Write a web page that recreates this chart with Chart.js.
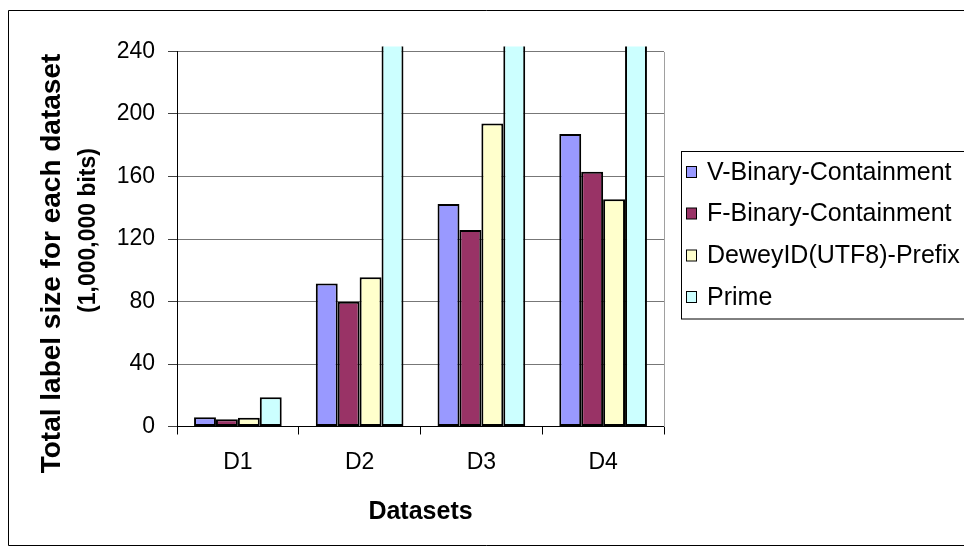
<!DOCTYPE html>
<html>
<head>
<meta charset="utf-8">
<script src="https://cdn.jsdelivr.net/npm/chart.js@4/dist/chart.umd.min.js"></script>
<style>
  html, body { margin: 0; padding: 0; background: #fff; }
  #wrap { width: 964px; height: 553px; position: relative; }
</style>
</head>
<body>
<div id="wrap"><canvas id="c" width="964" height="553"></canvas></div>
<script>
// ---- data ----
const categories = ['D1', 'D2', 'D3', 'D4'];
const seriesNames = ['V-Binary-Containment', 'F-Binary-Containment', 'DeweyID(UTF8)-Prefix', 'Prime'];
const vBinary = [5.9, 91.5, 142.4, 187.2];
const fBinary = [4.6, 79.8, 125.8, 163];
const deweyPrefix = [5.6, 95.6, 194, 145.4];
const prime = [18.7, 300, 300, 300]; // D2-D4 run off the top of the axis in the original
const yTicks = [0, 40, 80, 120, 160, 200, 240];
const xTitle = 'Datasets';
const yTitleLines = ['Total label size for each dataset', '(1,000,000 bits)'];

const colors = ['#9999FF', '#993366', '#FFFFCC', '#CCFFFF'];
const seriesValues = [vBinary, fBinary, deweyPrefix, prime];

const FONT = "'Liberation Sans', Arial, sans-serif";

const framePlugin = {
  id: 'frame',
  beforeDraw(chart) {
    const ctx = chart.ctx;
    ctx.save();
    ctx.fillStyle = '#fff';
    ctx.fillRect(0, 0, chart.width, chart.height);
    ctx.strokeStyle = '#000';
    ctx.lineWidth = 1;
    ctx.beginPath();
    ctx.moveTo(964, 10.5);
    ctx.lineTo(8.5, 10.5);
    ctx.lineTo(8.5, 545.5);
    ctx.lineTo(964, 545.5);
    ctx.stroke();
    ctx.restore();
  },
  afterDraw(chart) {
    const ctx = chart.ctx;
    const ca = chart.chartArea;
    ctx.save();
    // plot-area right border
    ctx.strokeStyle = '#A0A0A0';
    ctx.lineWidth = 1;
    ctx.beginPath();
    ctx.moveTo(Math.round(ca.right) + 0.5, Math.round(ca.top));
    ctx.lineTo(Math.round(ca.right) + 0.5, Math.round(ca.bottom));
    ctx.stroke();

    // y title (two lines, rotated)
    ctx.fillStyle = '#000';
    ctx.textAlign = 'center';
    ctx.textBaseline = 'middle';
    ctx.save();
    ctx.translate(52, 263.5);
    ctx.rotate(-Math.PI / 2);
    ctx.font = 'bold 28px ' + FONT;
    ctx.fillText(yTitleLines[0], 0, 0);
    ctx.restore();
    ctx.save();
    ctx.translate(89, 230.5);
    ctx.rotate(-Math.PI / 2);
    ctx.font = 'bold 23px ' + FONT;
    ctx.fillText(yTitleLines[1], 0, 0);
    ctx.restore();

    // legend
    const lx = 681.5, ly = 151.5, lw = 300, lh = 167.5;
    ctx.strokeStyle = '#000';
    ctx.strokeRect(lx, ly, lw, lh);
    ctx.font = '25px ' + FONT;
    ctx.textAlign = 'left';
    const rowY = [172, 213.5, 255.5, 297];
    chart.data.datasets.forEach((ds, i) => {
      const y = rowY[i];
      ctx.fillStyle = ds.backgroundColor;
      ctx.fillRect(686.5, y - 5.5, 10, 11);
      ctx.strokeStyle = '#000';
      ctx.strokeRect(686.5, y - 5.5, 10, 11);
      ctx.fillStyle = '#000';
      ctx.fillText(ds.label, 707, y + 1);
    });
    ctx.restore();
  }
};

new Chart(document.getElementById('c'), {
  type: 'bar',
  data: {
    labels: categories,
    datasets: seriesNames.map((name, i) => ({
      label: name,
      data: seriesValues[i],
      backgroundColor: colors[i],
      borderColor: '#000',
      borderWidth: 2,
      borderSkipped: false,
      categoryPercentage: 0.72,
      barPercentage: 1,
      clip: { left: 0, top: 5, right: 0, bottom: 0 }
    }))
  },
  options: {
    responsive: false,
    animation: false,
    devicePixelRatio: 1,
    layout: { padding: { top: 51.5, right: 300, left: 0, bottom: 0 } },
    plugins: { legend: { display: false }, tooltip: { enabled: false } },
    scales: {
      x: {
        offset: true,
        grid: {
          offset: true,
          drawOnChartArea: false,
          drawTicks: true,
          tickLength: 8,
          color: '#000',
          tickColor: '#000'
        },
        border: { color: '#000', width: 1 },
        ticks: { color: '#000', font: { family: FONT, size: 23 }, padding: 14 },
        title: {
          display: true,
          text: xTitle,
          color: '#000',
          font: { family: FONT, size: 25, weight: 'bold' },
          padding: { top: 0, bottom: 26 }
        },
        afterFit(scale) { scale.height = 126.5; }
      },
      y: {
        min: 0,
        max: 240,
        afterBuildTicks(scale) { scale.ticks = yTicks.map(v => ({ value: v })); },
        grid: { color: '#777', tickColor: '#404040', tickLength: 9, lineWidth: 1 },
        border: { color: '#000', width: 1 },
        ticks: { color: '#000', font: { family: FONT, size: 23 }, padding: 13 },
        afterFit(scale) { scale.width = 177; }
      }
    }
  },
  plugins: [framePlugin]
});
</script>
</body>
</html>
